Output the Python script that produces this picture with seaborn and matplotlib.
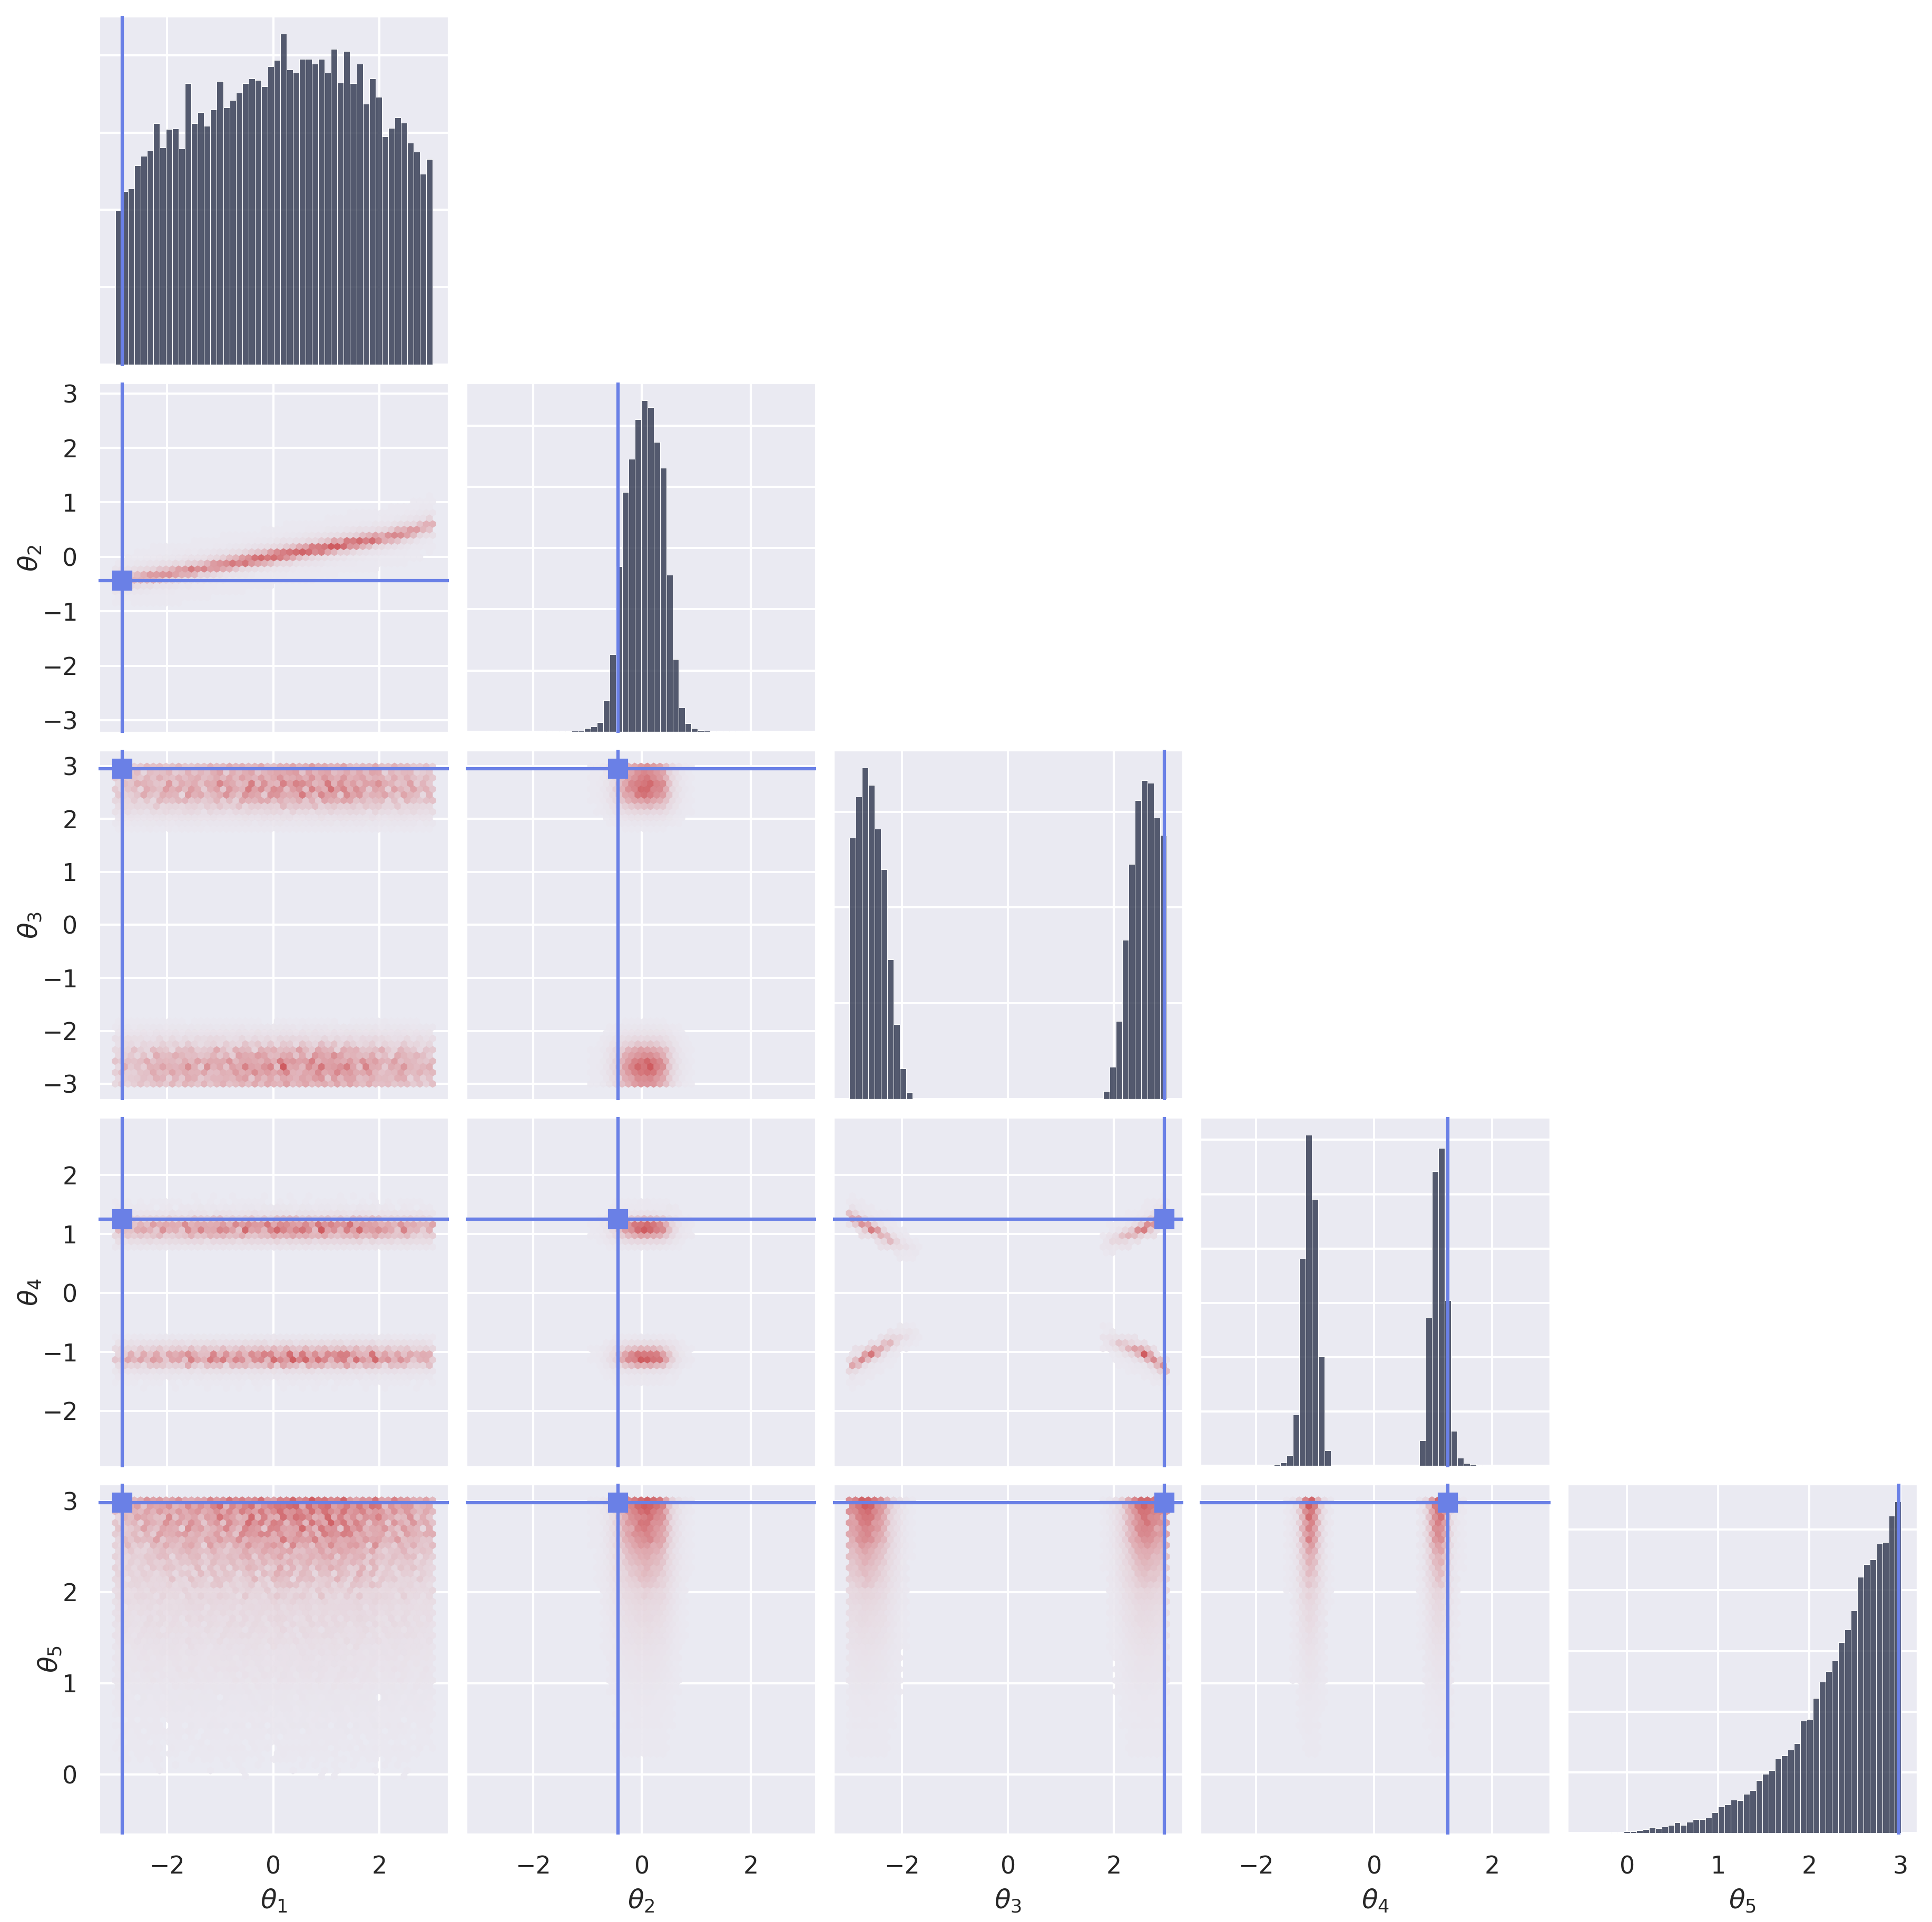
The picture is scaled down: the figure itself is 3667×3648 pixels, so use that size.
import numpy as np
import pandas as pd
import seaborn as sns
import matplotlib.pyplot as plt

# bar heights (units are arbitrary, the y axis has no labels)
heights_1 = [640, 719, 730, 826, 865, 886, 1000, 900, 976, 978, 895, 1165, 1000, 1045, 989, 1056, 1174, 1066, 1095, 1126,
             1165, 1185, 1178, 1152, 1235, 1261, 1372, 1222, 1209, 1267, 1267, 1246, 1267, 1209, 1307, 1167, 1298, 1165, 1246, 1080,
             1185, 1108, 945, 980, 1024, 1002, 919, 882, 791, 851]
heights_2 = [0, 0, 0, 0, 0, 0, 0, 0, 0, 0, 1, 1, 1, 2, 5, 5, 16, 23, 39, 135,
             330, 706, 1022, 1163, 1331, 1412, 1383, 1236, 1124, 670, 310, 103, 36, 16, 7, 4, 2, 1, 1, 0,
             1, 0, 0, 0, 0, 0, 0, 0, 0, 0]
heights_3 = [1111, 1285, 1409, 1335, 1149, 976, 593, 318, 130, 29, 2, 0, 0, 0, 0, 0, 0, 0, 0, 0,
             0, 0, 0, 0, 0, 0, 0, 0, 0, 0, 0, 0, 0, 0, 0, 0, 0, 0, 0, 0,
             33, 136, 331, 676, 999, 1270, 1356, 1344, 1196, 1122]
heights_4 = [0, 0, 0, 0, 0, 0, 0, 0, 3, 7, 14, 45, 218, 883, 1412, 1138, 466, 65, 0, 0,
             0, 0, 0, 0, 0, 0, 0, 0, 0, 0, 0, 1, 108, 634, 1257, 1356, 706, 148, 34, 11,
             7, 3, 1, 0, 0, 0, 0, 0, 0, 0]
heights_5 = [0, 0, 0, 2, 1, 2, 5, 5, 9, 13, 20, 16, 22, 27, 36, 27, 38, 47, 47, 53,
             71, 91, 99, 115, 113, 135, 148, 183, 205, 219, 258, 270, 290, 312, 391, 396, 470, 526, 563, 599,
             663, 707, 773, 890, 934, 952, 1007, 1012, 1104, 1152]

labels = [r"$\theta_1$", r"$\theta_2$", r"$\theta_3$", r"$\theta_4$", r"$\theta_5$"]
truth = [-2.85, -0.44, 2.95, 1.25, 2.98]
data_range = [(-2.98, 3.00), (-2.91, 2.876), (-3.00, 2.99), (-2.665, 2.695), (-0.452, 3.008)]
axis_lims = [(-3.295, 3.31), (-3.236, 3.198), (-3.309, 3.308), (-2.956, 2.989), (-0.658, 3.188)]
x_ticks = [[-2, 0, 2], [-2, 0, 2], [-2, 0, 2], [-2, 0, 2], [0, 1, 2, 3]]
y_ticks = [[], [-3, -2, -1, 0, 1, 2, 3], [-3, -2, -1, 0, 1, 2, 3], [-2, -1, 0, 1, 2], [0, 1, 2, 3]]
count_step = [320.5, 261, 407, 231.7, 211]

# centre of the theta_2 band for each theta_1 bin
ridge_12 = [-0.44, -0.42, -0.41, -0.39, -0.37, -0.36, -0.34, -0.32, -0.31, -0.29,
            -0.27, -0.25, -0.24, -0.22, -0.20, -0.18, -0.16, -0.14, -0.12, -0.10,
            -0.08, -0.06, -0.04, -0.02, 0.00, 0.02, 0.04, 0.06, 0.08, 0.10,
            0.12, 0.13, 0.15, 0.17, 0.19, 0.21, 0.23, 0.25, 0.27, 0.29,
            0.31, 0.33, 0.35, 0.37, 0.40, 0.43, 0.46, 0.50, 0.54, 0.58]
band_edges = [-0.5, -0.35, -0.25, -0.15, -0.07, 0.07, 0.15, 0.25, 0.35, 0.5]
band_weights = [0.02, 0.04, 0.14, 0.50, 1.0, 0.55, 0.20, 0.06, 0.02]

# |theta_4| along the four arcs, one value per theta_3 bin, outermost bin first
arc_left = [1.29, 1.21, 1.14, 1.08, 1.03, 0.97, 0.89, 0.84, 0.79, 0.76, 0.74]
arc_right = [1.32, 1.23, 1.16, 1.08, 1.04, 1.00, 0.96, 0.92, 0.88, 0.83]
strength_left = [0.70, 0.80, 1.00, 0.95, 0.85, 0.70, 0.55, 0.40, 0.25, 0.12, 0.05]
strength_right = [0.80, 0.90, 1.00, 1.00, 0.90, 0.70, 0.60, 0.45, 0.30, 0.12]
arc_shift = 0.03
arc_edges = [-0.16, -0.06, 0.06, 0.15, 0.25, 0.35, 0.5]
arc_weights = [0.20, 1.0, 0.35, 0.08, 0.03, 0.01]

# relative brightness of neighbouring cells, read from the theta_1 / theta_5 panel
cell_speckle = [[1.00, 1.30, 1.00, 1.10, 1.25, 1.00, 1.10, 1.20, 1.00, 1.30, 1.00, 1.30, 1.10],
                [0.80, 1.00, 1.05, 0.95, 1.10, 1.00, 1.20, 1.25, 0.75, 1.15, 0.95, 1.10, 1.20],
                [1.05, 1.25, 0.90, 0.85, 1.00, 1.00, 1.25, 1.00, 1.05, 1.30, 1.10, 1.15, 1.00],
                [0.70, 1.50, 1.00, 1.05, 0.80, 1.20, 1.05, 1.40, 1.10, 1.05, 1.25, 1.30, 1.10],
                [1.20, 1.00, 1.10, 1.00, 1.00, 1.25, 0.85, 1.00, 1.00, 0.95, 0.90, 1.05, 0.85],
                [0.85, 0.95, 1.10, 0.75, 1.05, 0.70, 1.25, 1.10, 1.05, 1.25, 1.20, 0.85, 1.00],
                [0.80, 0.85, 0.90, 1.25, 0.90, 0.70, 1.15, 1.00, 0.95, 0.60, 1.10, 1.00, 1.05],
                [0.55, 0.85, 0.90, 0.55, 1.00, 0.80, 0.70, 1.10, 0.85, 1.00, 0.70, 0.95, 0.85],
                [0.90, 0.80, 1.00, 0.90, 0.80, 0.60, 0.65, 1.05, 0.60, 0.95, 0.65, 0.85, 0.60]]

all_heights = [heights_1, heights_2, heights_3, heights_4, heights_5]
bar_color = "#2d354d"
truth_color = "#6a80e6"
n_bins = 50
sub = 4

sns.set_theme()
hex_cmap = sns.blend_palette(["#eae9f1", "#e6d3da", "#dd9ba1", "#cc4c50"], as_cmap=True)
hex_cmap.set_bad((0, 0, 0, 0))


def bin_edges(i):
    return np.linspace(data_range[i][0], data_range[i][1], n_bins + 1)


def fine_positions(i):
    # several positions inside every bin, so that each hexagon catches some of them
    e = bin_edges(i)
    return (e[:-1, None] + (np.arange(sub) + 0.5) / sub * (e[1] - e[0])).ravel()


def table_lookup(offs, edges, weights):
    idx = np.searchsorted(edges, offs) - 1
    ok = (idx >= 0) & (idx < len(weights))
    return np.where(ok, np.array(weights)[np.clip(idx, 0, len(weights) - 1)], 0.0)


def joint_table(ix, iy):
    # cell weights for one panel, built from the bars and tables read above
    hx = np.repeat(all_heights[ix], sub) / 1000
    hy = np.repeat(all_heights[iy], sub) / 1000
    gx, gy = np.meshgrid(fine_positions(ix), fine_positions(iy), indexing="ij")
    if (ix, iy) == (0, 1):
        offs = gy - np.repeat(ridge_12, sub)[:, None]
        w = table_lookup(offs, band_edges, band_weights) * hx[:, None]
    elif (ix, iy) == (2, 3):
        ridge = np.full(n_bins, 99.0)
        ridge[:len(arc_left)] = arc_left
        ridge[-len(arc_right):] = arc_right[::-1]
        strength = np.zeros(n_bins)
        strength[:len(strength_left)] = strength_left
        strength[-len(strength_right):] = strength_right[::-1]
        offs = np.abs(gy - arc_shift) - (np.repeat(ridge, sub)[:, None] - arc_shift)
        w = table_lookup(offs, arc_edges, arc_weights) * np.repeat(strength, sub)[:, None]
    else:
        w = hx[:, None] * hy[None, :]
    return gx, gy, w


fig, axes = plt.subplots(5, 5, figsize=(3667 / 300, 3648 / 300), dpi=300)
w_px = 665.3
gap_px = 31.5
fig.subplots_adjust(left=187 / 3667, right=3639.6 / 3667, top=1 - 29.5 / 3648, bottom=1 - 3481.6 / 3648,
                    wspace=gap_px / w_px, hspace=gap_px / w_px)

speckle = np.array(cell_speckle)
speckle = speckle / speckle.mean(axis=1, keepdims=True)

for r in range(5):
    for c in range(5):
        ax = axes[r, c]
        if c > r:
            ax.set_visible(False)
            continue

        if r == c:
            e = bin_edges(c)
            df = pd.DataFrame({"centre": (e[:-1] + e[1:]) / 2, "height": all_heights[c]})
            sns.histplot(data=df, x="centre", weights="height", bins=n_bins, binrange=data_range[c],
                         color=bar_color, alpha=0.8, edgecolor="white", linewidth=0.25, ax=ax)
            top = max(all_heights[c]) * 1.05
            # the white spine hides 2.6 px of the axes on each side
            pad = top * 2.6 / 660
            ax.set_ylim(-pad, top + pad)
            ax.set_yticks(np.arange(0, top, count_step[c]))
            ax.set_yticklabels([])
            ax.set_ylabel("")
            ax.axvline(truth[c], color=truth_color, lw=1.5, zorder=5)
        else:
            gx, gy, w = joint_table(c, r)
            keep = w > w.max() * (0.001 if c == 0 and r > 1 else 0.012)
            x0, x1 = data_range[c]
            y0, y1 = data_range[r]
            hb = ax.hexbin(gx[keep], gy[keep], C=w[keep], reduce_C_function=np.mean, gridsize=n_bins,
                           extent=(x0, x1, y0, y1), cmap=hex_cmap, linewidths=0.1, alpha=0.9)
            # cell to cell scatter is strongest in the theta_1 column
            noisy = c == 0 and r > 1
            power = 0.9 if noisy else 0.25 if c == 0 else 0.2
            off = np.asarray(hb.get_offsets())
            col = np.round((off[:, 0] - x0) / ((x1 - x0) / n_bins)).astype(int)
            row = np.round((off[:, 1] - y0) / ((y1 - y0) / 56)).astype(int)
            cell = speckle[row % 9, (col + 5 * (row // 9)) % 13]
            base = np.asarray(hb.get_array())
            base = (base / base.max()) ** (0.85 if noisy else 1.0)
            vals = base * cell ** power
            # sparse cells of the theta_1 column stay empty, as in the picture
            if noisy:
                vals = np.ma.masked_where(base * cell ** 3 < 0.015, vals)
            hb.set_array(vals)
            hb.set_clim(0, vals.max())
            ax.axvline(truth[c], color=truth_color, lw=1.5, zorder=5)
            ax.axhline(truth[r], color=truth_color, lw=1.5, zorder=5)
            ax.plot([truth[c]], [truth[r]], marker="s", ms=8, color=truth_color, zorder=6)
            ax.set_yticks(y_ticks[r])

        ax.set_xlim(axis_lims[c])
        if r != c:
            ax.set_ylim(axis_lims[r])
        ax.set_xticks(x_ticks[c])

        if r == 4:
            ax.set_xlabel(labels[c])
        else:
            ax.set_xlabel("")
            ax.set_xticklabels([])
        if c == 0 and r > 0:
            ax.set_ylabel(labels[r], labelpad=-0.5)
        elif r != c:
            ax.set_ylabel("")
            ax.set_yticklabels([])
        else:
            ax.set_ylabel("")

fig.savefig("out.png", dpi=300)
